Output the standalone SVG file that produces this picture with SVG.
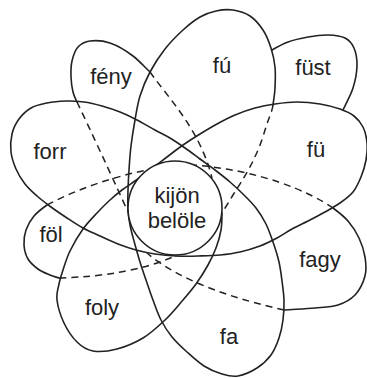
<svg xmlns="http://www.w3.org/2000/svg" width="367" height="378" viewBox="0 0 367 378">
<style>
.l{fill:none;stroke:#222;stroke-width:1.6;stroke-linecap:round;stroke-linejoin:round}
.d{fill:none;stroke:#222;stroke-width:1.5;stroke-dasharray:7 5}
.t{font-family:"Liberation Sans",Arial,Helvetica,sans-serif;font-size:22px;fill:#222;text-anchor:middle}
</style>
<rect width="367" height="378" fill="#fff"/>
<g id="petal-foly">
<path class="l" d="M222,213 S222,224.2 221,230 S218.2,242.2 216,248 S211.3,259 208,265 S200.2,278.2 196,284 S188.2,294 183,300 S171.7,313.7 165,320 S151,333.2 143,338 S125.3,346.8 117,349 S99.7,352.2 93,351 S81.8,346.7 77,342 S67.3,330 64,323 S57.8,306.5 57,300 S58,289 59,284 S61.2,275.5 63,270 S66.7,257.8 70,251 S78.5,235.3 83,229 S92.5,217.8 97,213 S105.8,203.8 110,200 S117.8,193.2 122,190 S130.3,184.3 135,181"/>
<text class="t" x="102" y="315">foly</text>
</g>
<g id="petal-fü">
<path class="l" d="M135,181 C139.7,177.7 144.7,174 150,170 S161.5,161.2 167,157 S177.5,148.8 183,145 S194.3,137.5 200,134 S211.2,127.2 217,124 S228.7,117.7 235,115 S248.3,109.8 255,108 S268,105 275,104 S289.5,102 297,102 S312.8,102.8 320,104 S334.3,107 340,109 S350.2,113 354,116 S360.8,122.5 363,127 S366.5,137.5 367,143 S367,154.3 366,160 S363.2,171.7 361,177 S356.5,187.7 353,192 S344.7,199.7 340,203 S330.3,209 325,212 S313.5,218.2 308,221 S297.2,226.2 292,229 S282.3,235.2 277,238 S266.2,243.7 260,246 S246.7,250.5 240,252 S227,254.3 220,255 S205.3,255.8 198,256 S183.2,256.3 176,256"/>
<text class="t" x="316" y="157">fü</text>
</g>
<g id="petal-forr">
<path class="l" d="M176,256 C168.8,255.7 161.7,255 155,254 S142.2,251.7 136,250 S124,246.3 118,244 S105.8,238.7 100,236 S88.5,231 83,228 S72.3,221.5 67,218 S56,210.7 51,207 S41.3,199.8 37,196 S28.5,188.5 25,184 S18.3,174.3 16,169 S11.7,157.8 11,152 S10.7,139.5 12,134 S15.8,123.3 19,119 S26.3,110.7 31,108 S41.2,104.2 47,103 S59.8,101.2 66,101 S78,101.2 84,102 S96,104.3 102,106 S114.2,109.7 120,112 S131.2,117 137,120 S149.5,127 155,130 S165,135 170,138 S180,144.5 185,148 S195,155.3 200,159"/>
<text class="t" x="50" y="159">forr</text>
</g>
<g id="petal-fa">
<path class="l" d="M200,159 C205,162.7 210,166.2 215,170 S225.2,177.8 230,182 S239.7,190.7 244,195 S252.3,203.2 256,208 S263.2,218.3 266,224 S270.8,235.7 273,242 S277.5,255.5 279,262 S281.2,274.7 282,281 S283.8,293.5 284,300 S283.8,313.7 283,320 S281,332.2 279,338 S274.7,350 271,355 S262.5,364.5 257,368 S243.8,375 238,376 S227.7,375.7 222,374 S209.8,369.7 204,366 S192.3,356.8 187,352 S176.3,342.3 172,337 S164.2,326.2 161,320 S155.5,306.7 153,300 S148.2,286.3 146,280 S142,268.5 140,262 S135.7,247.2 134,241 S131,230.3 130,225 S128.3,214.8 128,209"/>
<text class="t" x="229" y="344">fa</text>
</g>
<g id="petal-fú">
<path class="l" d="M128,209 C127.7,203.2 127.8,196.5 128,190 S128.5,177.3 129,170 S130,154.3 131,146 S133.5,128.3 135,120 S137.5,104 140,96 S145.8,79.8 150,72 S159.5,56 165,49 S177.2,35.3 183,30 S194.5,20.2 200,17 S210.5,12.2 216,11 S227.3,9.2 233,10 S245,12.7 250,16 S259.5,24.7 263,30 S269,41.8 271,48 S274.3,60.3 275,67 S275.3,81.7 275,88 S273.7,99.3 273,105"/>
<path class="d" d="M273,105 C272.3,110.7 269.2,117.3 267,124 S262.5,138.5 260,145 S254.8,157.3 252,163 S246.2,173.7 243,179 S236.5,189.3 233,195 S225.7,207 222,213"/>
<text class="t" x="222" y="73">fú</text>
</g>
<g id="petal-fény">
<path class="l" d="M77,102 S74,96.2 73,92 S71.2,82.2 71,77 S70.8,66 72,61 S75,50.3 78,47 S84.7,41.7 90,41 S102.8,40.5 110,43 S126.7,51.2 133,56 S144.3,66.7 150,72"/>
<path class="d" d="M77,102 Q99,148 128,212"/>
<path class="d" d="M150,72 C170,100 200,130 212,178"/>
<text class="t" x="111" y="84">fény</text>
</g>
<g id="petal-füst">
<path class="l" d="M272,50 S282,44.2 288,42 S301.3,38.2 308,37 S321.8,34.8 328,35 S340.7,35.8 345,38 S352,43.3 354,48 S357.2,59.3 357,66 S355.3,80.7 353,88 S346.3,102.7 343,110"/>
<text class="t" x="313" y="75">füst</text>
</g>
<g id="petal-föl">
<path class="l" d="M47,205 S37.5,211.8 34,216 S27.7,225.2 26,230 S23.7,240.2 24,245 S25.7,255 28,259 S34.3,266.3 38,269 S46.5,273.5 50,275 S56,277 59,278"/>
<path class="d" d="M47,205 Q95,180 152,169"/>
<path class="d" d="M59,278 Q130,276 175,256"/>
<text class="t" x="51" y="242">föl</text>
</g>
<g id="petal-fagy">
<path class="l" d="M333,208 S343.7,216 348,221 S356.2,232 359,238 S364,250.7 365,257 S366.7,269.7 365,276 S359.5,290.2 355,295 S344.7,302.8 338,305 S324,307.2 315,308 S294.3,309.3 284,310"/>
<path class="d" d="M333,208 C310,192 260,170 193,165"/>
<path class="d" d="M284,310 C240,300 182,283 147,253"/>
<text class="t" x="320" y="267">fagy</text>
</g>
<g id="center">
<circle cx="175" cy="208" r="47" fill="#fff" stroke="#222" stroke-width="1.6"/>
<text class="t" x="177" y="203">kijön</text>
<text class="t" x="177" y="228">belöle</text>
</g>
</svg>
